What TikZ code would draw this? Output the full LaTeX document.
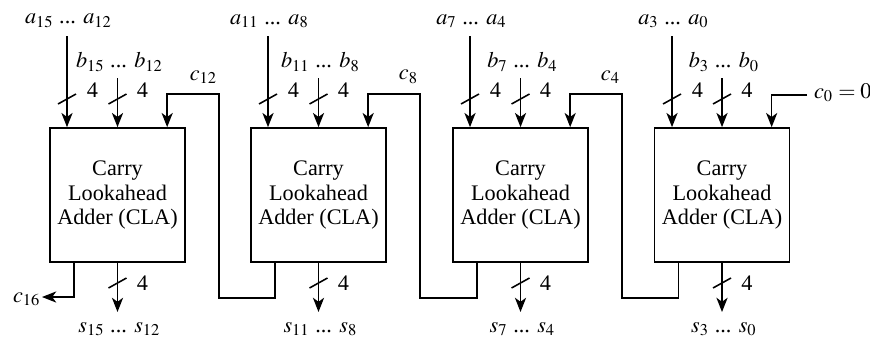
\documentclass[tikz,border=0pt]{standalone}
\usepackage{mathptmx}
\usepackage{fontspec}
\setmainfont{Liberation Serif}
\usetikzlibrary{arrows.meta,calc}
\tikzset{
    lab/.style={
        font=\fontsize{10}{11}\selectfont
    }
}

\begin{document}
\begin{tikzpicture}[x=0.45pt,y=-0.45pt]

\tikzset{
  bus/.style={draw=black, line width=0.85pt, -{Stealth[length=6.4pt,width=5pt,inset=1.8pt]}},
  carry/.style={draw=black, line width=0.7pt, -{Stealth[length=6.4pt,width=5pt,inset=1.8pt]}},
  cla/.style={draw=black, line width=0.75pt, minimum width=60.75pt, minimum height=60.3pt, inner sep=0pt, align=center, lab},
  tick/.style={draw=black, line width=0.7pt},
}

\useasboundingbox (0,0) rectangle (870,341);

% adders
\node[cla] (cla3) at (117.5,195) {Carry\\Lookahead\\Adder (CLA)};
\node[cla] (cla2) at (318.5,195) {Carry\\Lookahead\\Adder (CLA)};
\node[cla] (cla1) at (520.5,195) {Carry\\Lookahead\\Adder (CLA)};
\node[cla] (cla0) at (722,195) {Carry\\Lookahead\\Adder (CLA)};

% operand inputs
\coordinate (a3) at (67,36);
\coordinate (b3) at (117.5,78);
\coordinate (a2) at (268,36);
\coordinate (b2) at (318.5,78);
\coordinate (a1) at (470,36);
\coordinate (b1) at (520.5,78);
\coordinate (a0) at (672,36);
\coordinate (b0) at (722,78);

\draw[bus] (a3) -- (a3 |- cla3.north);
\draw[bus] (b3) -- (cla3.north);
\draw[bus] (a2) -- (a2 |- cla2.north);
\draw[bus] (b2) -- (cla2.north);
\draw[bus] (a1) -- (a1 |- cla1.north);
\draw[bus] (b1) -- (cla1.north);
\draw[bus] (a0) -- (a0 |- cla0.north);
\draw[bus] (b0) -- (cla0.north);

% bus width marks
\draw[tick] ($(a3)+(-9,68)$) -- ++(18,-10);
\draw[tick] ($(b3)+(-9,26)$) -- ++(18,-10);
\draw[tick] ($(a2)+(-9,68)$) -- ++(18,-10);
\draw[tick] ($(b2)+(-9,26)$) -- ++(18,-10);
\draw[tick] ($(a1)+(-9,68)$) -- ++(18,-10);
\draw[tick] ($(b1)+(-9,26)$) -- ++(18,-10);
\draw[tick] ($(a0)+(-9,68)$) -- ++(18,-10);
\draw[tick] ($(b0)+(-9,26)$) -- ++(18,-10);

\node[lab] at ($(a3)+(1.5,-15)$) {$a_{15}$ ... $a_{12}$};
\node[lab] at ($(b3)+(2,-16)$) {$b_{15}$ ... $b_{12}$};
\node[lab] at ($(a2)+(1.5,-15)$) {$a_{11}$ ... $a_{8}$};
\node[lab] at ($(b2)+(2,-16)$) {$b_{11}$ ... $b_{8}$};
\node[lab] at ($(a1)+(1.5,-15)$) {$a_{7}$ ... $a_{4}$};
\node[lab] at ($(b1)+(2,-16)$) {$b_{7}$ ... $b_{4}$};
\node[lab] at ($(a0)+(1.5,-15)$) {$a_{3}$ ... $a_{0}$};
\node[lab] at ($(b0)+(2,-16)$) {$b_{3}$ ... $b_{0}$};

\node[lab] at ($(a3)+(25.5,54.5)$) {4};
\node[lab] at ($(b3)+(25,12.5)$) {4};
\node[lab] at ($(a2)+(25.5,54.5)$) {4};
\node[lab] at ($(b2)+(25,12.5)$) {4};
\node[lab] at ($(a1)+(25.5,54.5)$) {4};
\node[lab] at ($(b1)+(25,12.5)$) {4};
\node[lab] at ($(a0)+(25.5,54.5)$) {4};
\node[lab] at ($(b0)+(25,12.5)$) {4};

% sum outputs
\coordinate (s3) at (117.5,312);
\coordinate (s2) at (318.5,312);
\coordinate (s1) at (520.5,312);
\coordinate (s0) at (722,312);

\draw[bus] (cla3.south) -- (s3);
\draw[bus] (cla2.south) -- (s2);
\draw[bus] (cla1.south) -- (s1);
\draw[bus] (cla0.south) -- (s0);

\draw[tick] ($(s3)+(-9,-24)$) -- ++(18,-10);
\draw[tick] ($(s2)+(-9,-24)$) -- ++(18,-10);
\draw[tick] ($(s1)+(-9,-24)$) -- ++(18,-10);
\draw[tick] ($(s0)+(-9,-24)$) -- ++(18,-10);

\node[lab] at ($(s3)+(25,-29)$) {4};
\node[lab] at ($(s2)+(25,-29)$) {4};
\node[lab] at ($(s1)+(25,-29)$) {4};
\node[lab] at ($(s0)+(25,-29)$) {4};

\node[lab] at ($(s3)+(2,17)$) {$s_{15}$ ... $s_{12}$};
\node[lab] at ($(s2)+(2,17)$) {$s_{11}$ ... $s_{8}$};
\node[lab] at ($(s1)+(2,17)$) {$s_{7}$ ... $s_{4}$};
\node[lab] at ($(s0)+(2,17)$) {$s_{3}$ ... $s_{0}$};

% carry chain
\coordinate (c16) at (42,297);
\coordinate (c12) at ($(cla3.north west)+(118,-33)$);
\coordinate (c8) at ($(cla2.north west)+(118,-33)$);
\coordinate (c4) at ($(cla1.north west)+(118,-33)$);
\coordinate (c0) at (807,95);

\draw[carry] ($(cla3.south west)+(25,0)$) |- (c16);
\draw[carry] ($(cla2.south west)+(25,0)$) -- ++(0,35) -| ($(cla3.north east)+(33,-33)$) -- (c12) -- (c12 |- cla3.north);
\draw[carry] ($(cla1.south west)+(25,0)$) -- ++(0,35) -| ($(cla2.north east)+(33,-33)$) -- (c8) -- (c8 |- cla2.north);
\draw[carry] ($(cla0.south west)+(25,0)$) -- ++(0,35) -| ($(cla1.north east)+(33,-33)$) -- (c4) -- (c4 |- cla1.north);
\draw[carry] (c0) -| ($(cla0.north west)+(118,0)$);

\node[lab, anchor=base east, inner sep=0pt] at ($(c16)+(-1,5)$) {$c_{16}$};
\node[lab, anchor=south east, inner sep=1pt] at ($(cla3.north east)+(34,-41)$) {$c_{12}$};
\node[lab, anchor=south east, inner sep=1pt] at ($(cla2.north east)+(34,-41)$) {$c_{8}$};
\node[lab, anchor=south east, inner sep=1pt] at ($(cla1.north east)+(34,-41)$) {$c_{4}$};
\node[lab, anchor=base west, inner sep=3pt] at ($(c0)+(0,3)$) {$c_0 = 0$};

\end{tikzpicture}
\end{document}
